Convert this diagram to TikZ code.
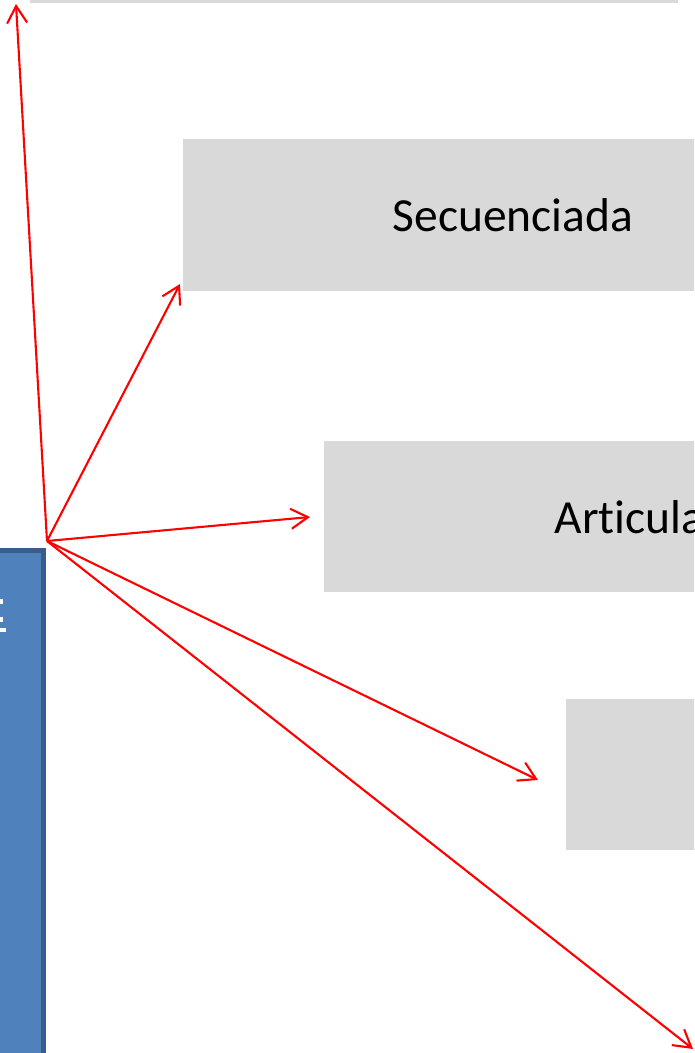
\documentclass[tikz,border=0pt]{standalone}
\usepackage{fontspec}
\setmainfont{Carlito}[Ligatures={NoCommon}]
\usetikzlibrary{arrows.meta}
\definecolor{boxgrey}{HTML}{D9D9D9}
\definecolor{bluefill}{HTML}{4F81BD}
\definecolor{blueedge}{HTML}{385D8A}
\tikzset{
  greybox/.style={fill=boxgrey, draw=none},
  conn/.style={draw=red, line width=2.1pt, -{Straight Barb[length=17pt,width=20pt,line width=2.1pt]}},
  lbl/.style={font=\fontsize{47.5}{56}\selectfont, text=black, inner sep=0pt}
}
\begin{document}
\begin{tikzpicture}[x=1pt,y=-1pt]
\useasboundingbox (0,0) rectangle (694,1053);
\clip (0,0) rectangle (694,1053);
% boxes
\fill[greybox] (30,-100) rectangle (678,3);
\fill[greybox] (183,139) rectangle (843,291);
\node[lbl] (sec) at (513,215) {Secuenciada};
\fill[greybox] (324,441) rectangle (983,592);
\node[lbl] (art) at (653.5,517) {Articulada};
\fill[greybox] (566,699) rectangle (1200,850);
% blue box
\filldraw[fill=bluefill, draw=blueedge, line width=5pt] (-100,550) rectangle (43.5,1200);
\fill[white] (0,599) rectangle (3,604);
\fill[white] (0,617) rectangle (3,622);
\fill[white] (0,628) rectangle (6,632);
% connectors
\coordinate (o) at (47,541);
\coordinate (t1) at (16,4);
\coordinate (t2) at (180,284);
\coordinate (t3) at (310,517);
\coordinate (t4) at (538,780);
\coordinate (t5) at (693,1049);
\draw[conn] (o) -- (t1);
\draw[conn] (o) -- (t2);
\draw[conn] (o) -- (t3);
\draw[conn] (o) -- (t4);
\draw[conn] (o) -- (t5);
\end{tikzpicture}
\end{document}
